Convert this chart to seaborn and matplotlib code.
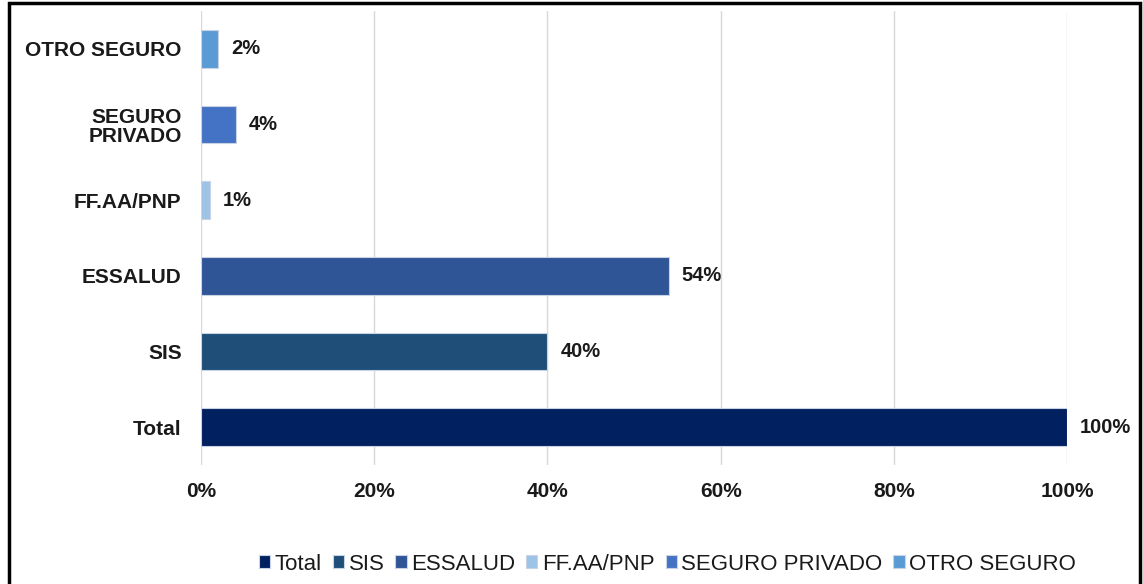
import numpy as np
import pandas as pd
import seaborn as sns
import matplotlib.pyplot as plt
from matplotlib.patches import Rectangle
from matplotlib.ticker import PercentFormatter

# data
categories = ["Total", "SIS", "ESSALUD", "FF.AA/PNP", "SEGURO PRIVADO", "OTRO SEGURO"]
tick_labels = ["Total", "SIS", "ESSALUD", "FF.AA/PNP", "SEGURO\nPRIVADO", "OTRO SEGURO"]
shares = [100, 40, 54, 1, 4, 2]
colors = ["#002060", "#1F4E79", "#2F5597", "#9DC3E6", "#4472C4", "#5B9BD5"]

df = pd.DataFrame({"seguro": categories, "pct": shares})

sns.set_style("white")
plt.rcParams["font.family"] = ["Liberation Sans", "DejaVu Sans"]

fig = plt.figure(figsize=(11.43, 5.84), dpi=100)
ax = fig.add_axes([0.176, 0.204, 0.7575, 0.777])

order = categories[::-1]
sns.barplot(data=df, y="seguro", x="pct", hue="seguro", order=order,
            hue_order=categories, palette=colors, saturation=1, dodge=False,
            width=0.5, edgecolor="#c9d3e6", linewidth=0.8, legend=True, ax=ax)

ax.set_xlim(0, 100)
ax.set_ylim(5.5, -0.5)
ax.xaxis.set_major_formatter(PercentFormatter(decimals=0))
ax.set_xticks(np.arange(0, 101, 20))
ax.grid(axis="x", color="#d9d9d9", linewidth=1)
ax.set_axisbelow(True)
for s in ax.spines.values():
    s.set_visible(False)
ax.set_xlabel("")
ax.set_ylabel("")
ax.tick_params(axis="y", length=0, pad=14)
ax.tick_params(axis="x", length=0, pad=12)
ax.set_yticks(range(len(order)))
ax.set_yticklabels(tick_labels[::-1], fontsize=15, fontweight="bold", color="#1a1a1a",
                   linespacing=1.0)
for lab in ax.get_xticklabels():
    lab.set_fontsize(15)
    lab.set_fontweight("bold")
    lab.set_color("#1a1a1a")

for i, cat in enumerate(order):
    v = shares[categories.index(cat)]
    ax.text(v + 1.5, i, f"{v}%", va="center", ha="left", fontsize=14.5,
            fontweight="bold", color="#1a1a1a")

handles, labels = ax.get_legend_handles_labels()
ax.get_legend().remove()
fig.legend(handles, labels, loc="center", bbox_to_anchor=(0.584, 0.034), ncol=6,
           frameon=False, prop={"size": 16}, labelcolor="#1a1a1a",
           handlelength=0.5, handleheight=0.5, handletextpad=0.2, columnspacing=0.5)

fig.patches.append(Rectangle((0.0075, -0.1), 0.99, 1.0955, transform=fig.transFigure,
                             fill=False, edgecolor="black", linewidth=2.5))

fig.savefig("out.png", dpi=100)
